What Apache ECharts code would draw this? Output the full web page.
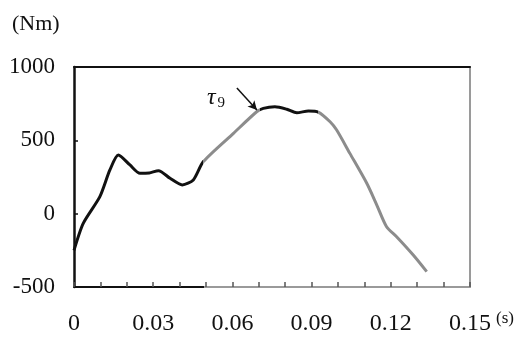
<!DOCTYPE html>
<html>
<head>
<meta charset="utf-8">
<title>Torque vs time</title>
<script src="https://cdn.jsdelivr.net/npm/echarts@6/dist/echarts.min.js"></script>
<style>
  html, body { margin: 0; padding: 0; background: #fff; }
  #chart { width: 523px; height: 338px; }
</style>
</head>
<body>
<div id="chart"></div>
<script>
// time (s) and torque (Nm)
const timeS = [0, 0.0035, 0.0098, 0.0136, 0.0168, 0.0212, 0.025, 0.0285, 0.032, 0.0364, 0.041, 0.0452, 0.049,
  0.0604, 0.0692, 0.0717, 0.0761, 0.0806, 0.0844, 0.0888, 0.0925,
  0.097, 0.0995, 0.1045, 0.1109, 0.1147, 0.1184, 0.1222, 0.1285, 0.1336]
const torqueNm = [-250, -66, 116, 298, 400, 332, 275, 278, 293, 241, 196, 230, 355,
  548, 695, 718, 729, 712, 688, 700, 693,
  627, 570, 411, 207, 59, -89, -157, -282, -395]

// parts of the trace that came out grey in the scan
const greyFrom = [0.049, 0.0925]
const greyTo = [0.0705, 1]

const yTicks = [-500, 0, 500, 1000]
const xLabelStep = 3 // label every 0.03 s, tick every 0.01 s

// annotation arrow (data coords)
const arrowFrom = [0.0617, 857]
const arrowTo = [0.0693, 707]

const ink = '#111'
const grey = '#8c8c8c'
const font = 'Liberation Serif'

const chart = echarts.init(document.getElementById('chart'))

const pieces = [
  { lt: greyFrom[0], color: ink },
  { gte: greyFrom[0], lt: greyTo[0], color: grey },
  { gte: greyTo[0], lt: greyFrom[1], color: ink },
  { gte: greyFrom[1], color: grey }
]

// frame lines fade to grey in the scan
function split(at, first, second) {
  return new echarts.graphic.LinearGradient(0, 0, 1, 0, [
    { offset: 0, color: first },
    { offset: at, color: first },
    { offset: at, color: second },
    { offset: 1, color: second }
  ])
}

const option = {
  animation: false,
  grid: { left: 74, right: 53, top: 67, bottom: 51 },
  xAxis: [
    {
      type: 'value',
      min: 0,
      max: 0.15,
      interval: 0.01,
      splitLine: { show: false },
      axisLine: { onZero: false, lineStyle: { color: split(0.33, ink, '#9a9a9a'), width: 2 } },
      axisTick: { inside: true, length: 5, lineStyle: { color: '#555', width: 1.5 } },
      axisLabel: {
        margin: 25,
        fontFamily: font,
        fontSize: 24,
        color: ink,
        formatter: (v) => {
          const k = Math.round(v * 100)
          if (k % xLabelStep !== 0) return ''
          return k === 0 ? '0' : (k / 100).toFixed(2)
        }
      }
    },
    {
      type: 'value',
      position: 'top',
      min: 0,
      max: 0.15,
      axisLine: { show: true, onZero: false, lineStyle: { color: ink, width: 2 } },
      axisTick: { show: false },
      axisLabel: { show: false },
      splitLine: { show: false }
    }
  ],
  yAxis: [
    {
      type: 'value',
      min: yTicks[0],
      max: yTicks[yTicks.length - 1],
      interval: 500,
      splitLine: { show: false },
      axisLine: { show: true, onZero: false, lineStyle: { color: ink, width: 2.5 } },
      axisTick: { show: true, inside: true, length: 4, lineStyle: { color: ink, width: 1.5 } },
      axisLabel: {
        margin: 19,
        padding: [6, 0, 0, 0],
        fontFamily: font,
        fontSize: 23,
        color: ink,
        formatter: (v) => String(v)
      }
    },
    {
      type: 'value',
      position: 'right',
      min: yTicks[0],
      max: yTicks[yTicks.length - 1],
      axisLine: { show: true, onZero: false, lineStyle: { color: split(0.79, '#9a9a9a', ink), width: 2 } },
      axisTick: { show: false },
      axisLabel: { show: false },
      splitLine: { show: false }
    }
  ],
  visualMap: {
    show: false,
    type: 'piecewise',
    dimension: 0,
    seriesIndex: 0,
    pieces: pieces
  },
  series: [
    {
      type: 'line',
      data: timeS.map((t, i) => [t, torqueNm[i]]),
      smooth: 0.25,
      showSymbol: false,
      lineStyle: { width: 3 },
      markLine: {
        silent: true,
        symbol: ['none', 'arrow'],
        symbolSize: [7, 9],
        label: { show: false },
        lineStyle: { color: ink, width: 1.5, type: 'solid' },
        data: [[{ coord: arrowFrom }, { coord: arrowTo }]]
      }
    }
  ],
  graphic: [
    {
      type: 'text',
      left: 12,
      top: 13,
      style: { text: '(Nm)', font: '22px "Liberation Serif"', fill: ink }
    },
    {
      type: 'text',
      left: 496,
      top: 310,
      style: { text: '(s)', font: '17px "Liberation Serif"', fill: ink }
    },
    {
      type: 'text',
      left: 207,
      top: 86,
      style: {
        text: '{t|τ}{n|9}',
        rich: {
          t: { font: 'italic 24px "Liberation Serif"', fill: ink },
          n: { font: '15px "Liberation Serif"', fill: ink, padding: [10, 0, 0, 2] }
        }
      }
    }
  ]
}

chart.setOption(option)
</script>
</body>
</html>
